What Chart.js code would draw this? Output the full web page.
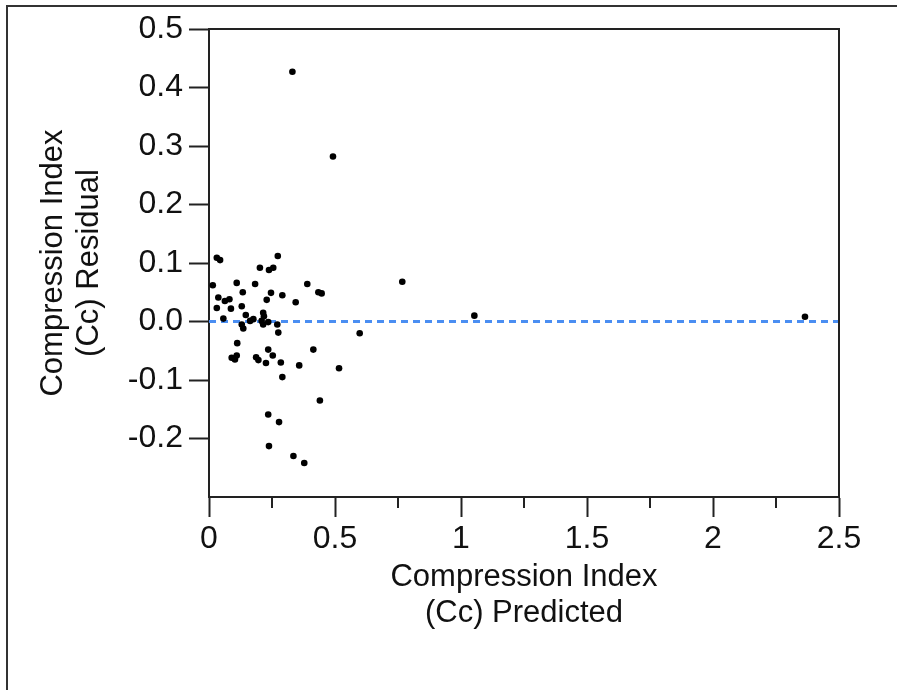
<!DOCTYPE html>
<html>
<head>
<meta charset="utf-8">
<script src="https://cdn.jsdelivr.net/npm/chart.js@4"></script>
<style>
  body { margin: 0; background: #fff; }
  #wrap { position: relative; width: 897px; height: 690px; }
  #frame {
    position: absolute; left: 6px; top: 5px; right: 0; bottom: 0;
    border-left: 2px solid #333; border-top: 2px solid #333;
    pointer-events: none;
  }
</style>
</head>
<body>
<div id="wrap">
  <canvas id="myChart" width="897" height="690"></canvas>
  <div id="frame"></div>
</div>
<script>
// predicted Cc (x) and residual (y)
const predicted = [
  0.031, 0.044, 0.273, 0.202, 0.238, 0.255, 0.015, 0.110, 0.183, 0.390,
  0.434, 0.447, 0.134, 0.246, 0.291, 0.037, 0.063, 0.081, 0.229, 0.344,
  0.031, 0.087, 0.130, 0.057, 0.146, 0.215, 0.218, 0.163, 0.176, 0.130,
  0.136, 0.209, 0.215, 0.235, 0.271, 0.275, 0.598, 0.112, 0.414, 0.235,
  0.253, 0.090, 0.103, 0.110, 0.187, 0.196, 0.226, 0.285, 0.358, 0.516,
  0.291, 0.440, 0.235, 0.278, 0.238, 0.335, 0.378, 0.331, 0.492, 0.767,
  1.053, 2.365
];
const residual = [
  0.109, 0.105, 0.112, 0.092, 0.088, 0.092, 0.062, 0.066, 0.064, 0.064,
  0.050, 0.048, 0.050, 0.049, 0.045, 0.041, 0.035, 0.038, 0.037, 0.033,
  0.023, 0.022, 0.026, 0.005, 0.011, 0.015, 0.009, 0.001, 0.004, -0.005,
  -0.012, 0.001, -0.005, -0.001, -0.005, -0.019, -0.020, -0.037, -0.048, -0.048,
  -0.058, -0.062, -0.065, -0.058, -0.061, -0.066, -0.071, -0.070, -0.075, -0.080,
  -0.095, -0.135, -0.159, -0.172, -0.213, -0.230, -0.242, 0.427, 0.282, 0.068,
  0.010, 0.008
];
// zero reference line
const zeroLineX = [0, 2.5];
const zeroLineY = [0, 0];
// minor ticks on the x axis
const xMinorTicks = [0.25, 0.75, 1.25, 1.75, 2.25];

const points = predicted.map((x, i) => ({ x: x, y: residual[i] }));
const zeroLine = zeroLineX.map((x, i) => ({ x: x, y: zeroLineY[i] }));

const fontFamily = '"Liberation Sans", Arial, Helvetica, sans-serif';

const frameAndMinor = {
  id: 'frameAndMinor',
  afterDraw(chart) {
    const c = chart.ctx;
    const a = chart.chartArea;
    const xs = chart.scales.x;
    c.save();
    c.strokeStyle = '#222';
    c.lineWidth = 2;
    c.beginPath();
    c.moveTo(a.left, a.top);
    c.lineTo(a.right, a.top);
    c.lineTo(a.right, a.bottom);
    c.stroke();
    c.beginPath();
    xMinorTicks.forEach(v => {
      const px = xs.getPixelForValue(v);
      c.moveTo(px, a.bottom);
      c.lineTo(px, a.bottom + 11);
    });
    c.stroke();
    c.restore();
  }
};

const ctx = document.getElementById('myChart');

new Chart(ctx, {
  type: 'scatter',
  data: {
    datasets: [
      {
        label: 'residual',
        data: points,
        pointRadius: 3.3,
        pointBorderWidth: 0,
        backgroundColor: '#000',
        borderColor: '#000',
        order: 1
      },
      {
        type: 'line',
        label: 'zero',
        data: zeroLine,
        showLine: true,
        pointRadius: 0,
        borderColor: '#4a8ef2',
        borderWidth: 3,
        borderDash: [7, 5],
        order: 2
      }
    ]
  },
  options: {
    responsive: false,
    animation: false,
    layout: { padding: { top: 29, right: 58, left: 0, bottom: 0 } },
    plugins: {
      legend: { display: false },
      tooltip: { enabled: false }
    },
    scales: {
      x: {
        type: 'linear',
        min: 0,
        max: 2.5,
        afterFit(scale) { scale.height = 193; },
        ticks: {
          stepSize: 0.5,
          color: '#111',
          padding: 3,
          maxRotation: 0,
          font: { family: fontFamily, size: 32 },
          callback: v => String(Math.round(v * 10) / 10)
        },
        grid: {
          drawOnChartArea: false,
          drawTicks: true,
          tickLength: 20,
          tickWidth: 2,
          tickColor: '#222'
        },
        border: { display: true, color: '#222', width: 2 },
        title: {
          display: true,
          text: ['Compression Index', '(Cc) Predicted'],
          color: '#111',
          font: { family: fontFamily, size: 31, lineHeight: 1.17 },
          padding: { top: 0, bottom: 58 }
        }
      },
      y: {
        type: 'linear',
        min: -0.3,
        max: 0.5,
        afterFit(scale) { scale.width = 209; },
        afterBuildTicks(scale) {
          scale.ticks = scale.ticks.filter(t => t.value > -0.25);
        },
        ticks: {
          stepSize: 0.1,
          color: '#111',
          padding: 6,
          font: { family: fontFamily, size: 32 },
          callback: v => v.toFixed(1)
        },
        grid: {
          drawOnChartArea: false,
          drawTicks: true,
          tickLength: 20,
          tickWidth: 2,
          tickColor: '#222'
        },
        border: { display: true, color: '#222', width: 2 },
        title: {
          display: true,
          text: ['Compression Index', '(Cc) Residual'],
          color: '#111',
          font: { family: fontFamily, size: 31, lineHeight: 1.17 },
          padding: { top: 35, bottom: 0 }
        }
      }
    }
  },
  plugins: [frameAndMinor]
});
</script>
</body>
</html>
